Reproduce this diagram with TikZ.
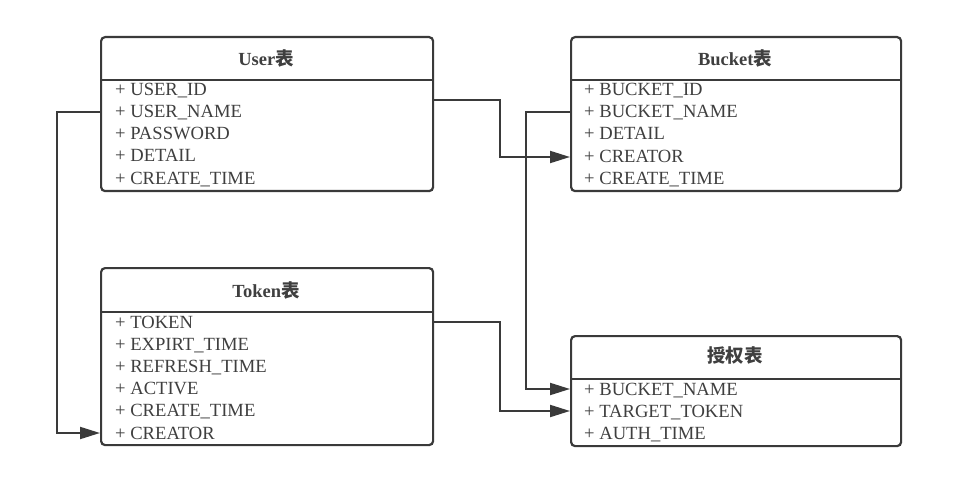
\documentclass[tikz,border=0pt]{standalone}
\usepackage{fontspec}
\setmainfont{Liberation Serif}
\newfontfamily\cjk{Noto Sans CJK SC}
\usetikzlibrary{arrows.meta,calc}
\definecolor{edge}{HTML}{3A3A3A}
\definecolor{txt}{HTML}{3F3F3F}
\tikzset{
  tbl/.style={draw=edge, line width=2.2pt, rounded corners=4pt, anchor=north west, inner sep=0pt},
  hdr/.style={font=\fontsize{18.5}{20}\selectfont\bfseries, text=txt, inner sep=0pt},
  row/.style={anchor=west, font=\fontsize{18.6}{20}\selectfont, text=txt, inner sep=0pt, text height=12pt, text depth=0pt},
  sep/.style={draw=edge, line width=2pt},
  conn/.style={draw=edge, line width=2pt, -{Triangle[length=20pt,width=12pt]}}
}
\begin{document}
\begin{tikzpicture}[x=1pt,y=-1pt]
\useasboundingbox (0,0) rectangle (955,486);
% User
\node[tbl, minimum width=332pt, minimum height=154pt] (user) at (100,36) {};
\node[hdr] (uh) at (266,58) {User{\cjk\bfseries 表}};
\draw[sep] (100,80) -- (432,80);
\node[row] (u1) at (115,90) {+ USER\_ID};
\node[row] (u2) at (115,112) {+ USER\_NAME};
\node[row] (u3) at (115,134) {+ PASSWORD};
\node[row] (u4) at (115,156) {+ DETAIL};
\node[row] (u5) at (115,179) {+ CREATE\_TIME};
% Bucket
\node[tbl, minimum width=330pt, minimum height=154pt] (bucket) at (570,36) {};
\node[hdr] (bh) at (735,58) {Bucket{\cjk\bfseries 表}};
\draw[sep] (570,80) -- (900,80);
\node[row] (b1) at (584,90) {+ BUCKET\_ID};
\node[row] (b2) at (584,112) {+ BUCKET\_NAME};
\node[row] (b3) at (584,134) {+ DETAIL};
\node[row] (b4) at (584,157) {+ CREATOR};
\node[row] (b5) at (584,179) {+ CREATE\_TIME};
% Token
\node[tbl, minimum width=332pt, minimum height=177pt] (token) at (100,267) {};
\node[hdr] (th) at (266,290) {Token{\cjk\bfseries 表}};
\draw[sep] (100,312) -- (432,312);
\node[row] (t1) at (115,322) {+ TOKEN};
\node[row] (t2) at (115,344) {+ EXPIRT\_TIME};
\node[row] (t3) at (115,366) {+ REFRESH\_TIME};
\node[row] (t4) at (115,388) {+ ACTIVE};
\node[row] (t5) at (115,410) {+ CREATE\_TIME};
\node[row] (t6) at (115,433) {+ CREATOR};
% Auth
\node[tbl, minimum width=330pt, minimum height=110pt] (auth) at (570,335) {};
\node[hdr] (ah) at (735,356) {{\cjk\bfseries 授权表}};
\draw[sep] (570,379) -- (900,379);
\node[row] (a1) at (584,389) {+ BUCKET\_NAME};
\node[row] (a2) at (584,411) {+ TARGET\_TOKEN};
\node[row] (a3) at (584,433) {+ AUTH\_TIME};
% connectors
\draw[conn] ([yshift=-64pt]user.north east) -| ([xshift=-70pt]bucket.west |- b4) -- (bucket.west |- b4);
\draw[conn] (bucket.west |- b2) -| ([xshift=-44pt]auth.west |- a1) -- (auth.west |- a1);
\draw[conn] (token.east |- t1) -| ([xshift=-70pt]auth.west |- a2) -- (auth.west |- a2);
\draw[conn] (user.west |- u2) -| ([xshift=-43pt]token.west |- t6) -- (token.west |- t6);
\end{tikzpicture}
\end{document}
